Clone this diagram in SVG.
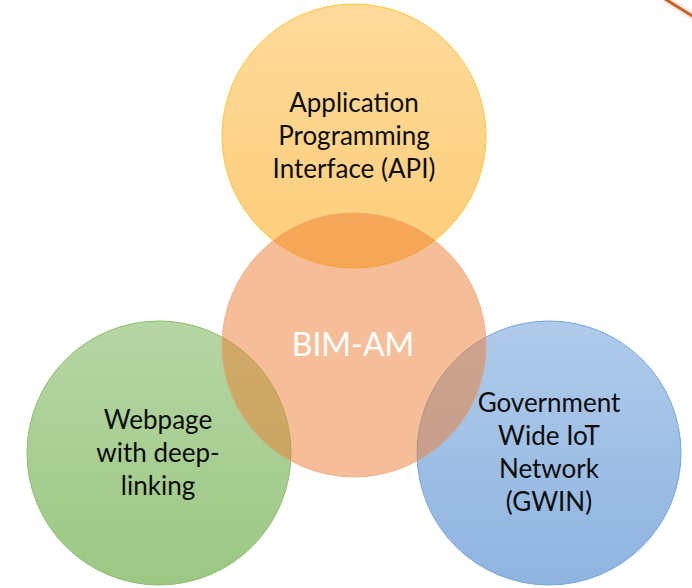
<svg xmlns="http://www.w3.org/2000/svg" width="692" height="588" viewBox="0 0 692 588">
  <defs>
    <linearGradient id="gTop" x1="0" y1="0" x2="0" y2="1">
      <stop offset="0" stop-color="#FFDA9B"/>
      <stop offset="1" stop-color="#FDCE79"/>
    </linearGradient>
    <linearGradient id="gGreen" x1="0" y1="0" x2="0" y2="1">
      <stop offset="0" stop-color="#B6D6A4"/>
      <stop offset="1" stop-color="#9BC883"/>
    </linearGradient>
    <linearGradient id="gBlue" x1="0" y1="0" x2="0" y2="1">
      <stop offset="0" stop-color="#B0CBEA"/>
      <stop offset="1" stop-color="#8EB4E0"/>
    </linearGradient>
  </defs>
  <style>
    .lbl { font-family: Lato, "Open Sans", "Liberation Sans", sans-serif; font-size: 26px; fill: #0D0D0D; text-anchor: middle; }
    .ctr { font-family: Lato, "Open Sans", "Liberation Sans", sans-serif; font-size: 32px; fill: #FFFFFF; text-anchor: middle; }
  </style>
  <rect width="692" height="588" fill="#FFFFFF"/>
  <line x1="665" y1="-1" x2="694" y2="17" stroke="#F3D9C8" stroke-width="8" opacity="0.5"/>
  <line x1="665" y1="-1" x2="694" y2="17" stroke="#C4662C" stroke-width="3"/>
  <g id="connectors"/>
  <g id="node-api">
    <circle cx="354" cy="136" r="132" fill="url(#gTop)" stroke="#FFC733" stroke-width="1"/>
    <text class="lbl" x="354" y="112">Application</text>
    <text class="lbl" x="354" y="145">Programming</text>
    <text class="lbl" x="354" y="178">Interface (API)</text>
  </g>
  <g id="node-webpage">
    <circle cx="159" cy="453" r="132" fill="url(#gGreen)" stroke="#8CBF6C" stroke-width="1"/>
    <text class="lbl" x="158" y="429">Webpage</text>
    <text class="lbl" x="158" y="462">with deep-</text>
    <text class="lbl" x="158" y="495">linking</text>
  </g>
  <g id="node-gwin">
    <circle cx="549" cy="453" r="132" fill="url(#gBlue)" stroke="#74A6DA" stroke-width="1"/>
    <text class="lbl" x="549" y="412">Government</text>
    <text class="lbl" x="549" y="445">Wide IoT</text>
    <text class="lbl" x="549" y="478">Network</text>
    <text class="lbl" x="549" y="511">(GWIN)</text>
  </g>
  <g id="node-bimam">
    <circle cx="354" cy="345" r="132" fill="#ED7D31" fill-opacity="0.5" stroke="#EE9A68" stroke-opacity="0.6" stroke-width="1"/>
    <text class="ctr" x="353" y="356">BIM-AM</text>
  </g>
</svg>
